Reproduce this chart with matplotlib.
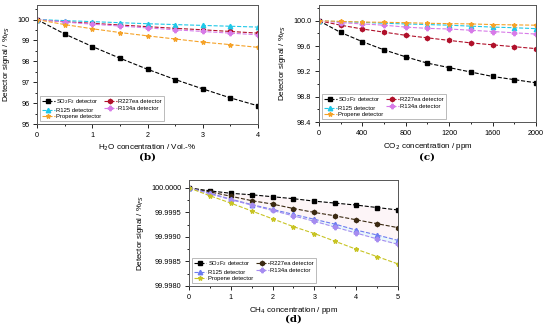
import numpy as np
import matplotlib.pyplot as plt
from matplotlib.ticker import MultipleLocator, AutoMinorLocator, FormatStrFormatter

plt.rcParams['font.family'] = ['Liberation Sans', 'DejaVu Sans']

# (b) H2O
x_h2o = [0, 0.5, 1, 1.5, 2, 2.5, 3, 3.5, 4]
b_so2f2 = [100, 99.31, 98.71, 98.15, 97.62, 97.13, 96.68, 96.25, 95.87]
b_r227ea = [100, 99.9, 99.82, 99.74, 99.66, 99.58, 99.51, 99.43, 99.35]
b_r125 = [100, 99.95, 99.9, 99.85, 99.8, 99.76, 99.72, 99.68, 99.64]
b_r134a = [100, 99.88, 99.78, 99.69, 99.6, 99.51, 99.43, 99.35, 99.27]
b_propene = [100, 99.76, 99.56, 99.38, 99.22, 99.07, 98.92, 98.8, 98.67]

# (c) CO2
x_co2 = [0, 200, 400, 600, 800, 1000, 1200, 1400, 1600, 1800, 2000]
c_so2f2 = [100, 99.815, 99.67, 99.54, 99.43, 99.33, 99.26, 99.19, 99.12, 99.07, 99.02]
c_r227ea = [100, 99.93, 99.87, 99.82, 99.77, 99.73, 99.69, 99.65, 99.62, 99.59, 99.56]
c_r125 = [100, 99.985, 99.975, 99.96, 99.95, 99.94, 99.93, 99.915, 99.9, 99.89, 99.875]
c_r134a = [100, 99.97, 99.95, 99.93, 99.9, 99.88, 99.87, 99.85, 99.83, 99.81, 99.79]
c_propene = [100, 99.99, 99.98, 99.975, 99.97, 99.96, 99.955, 99.95, 99.94, 99.935, 99.93]

# (d) CH4
x_ch4 = [0, 0.5, 1, 1.5, 2, 2.5, 3, 3.5, 4, 4.5, 5]
d_so2f2 = [100, 99.99994, 99.99989, 99.99986, 99.99982, 99.99978, 99.99973, 99.99969, 99.99965, 99.9996, 99.99955]
d_r227ea = [100, 99.99992, 99.99983, 99.99974, 99.99967, 99.99958, 99.9995, 99.99943, 99.99935, 99.99927, 99.99919]
d_r125 = [100, 99.99989, 99.99977, 99.99966, 99.99956, 99.99946, 99.99936, 99.99926, 99.99914, 99.99904, 99.99893]
d_r134a = [100, 99.99988, 99.99976, 99.99965, 99.99954, 99.99943, 99.99932, 99.9992, 99.99908, 99.99896, 99.99885]
d_propene = [100, 99.99984, 99.99969, 99.99953, 99.99937, 99.99921, 99.99907, 99.99891, 99.99875, 99.9986, 99.99845]

names = ['SO$_2$F$_2$ detector', 'R227ea detector', 'R125 detector', 'R134a detector', 'Propene detector']
markers = ['s', 'h', '^', 'P', '*']
cols_bc = ['black', '#b0102a', '#1ec8e8', '#d77ae8', '#f5a228']
cols_d = ['black', '#3b2a12', '#6c7cf0', '#a68cf0', '#c8c424']

fig = plt.figure(figsize=(5.5, 3.29), dpi=100)


def panel(rect, x, ys, cols, xlim, ylim, xmaj, ymaj, yfmt, xlabel, tag):
    ax = fig.add_axes(rect)
    handles = []
    for y, c, m, n in zip(ys, cols, markers, names):
        h, = ax.plot(x, y, '--', color=c, marker=m, ms=3.2, lw=0.8, label=n)
        handles.append(h)
    ax.set_xlim(*xlim)
    ax.set_ylim(*ylim)
    ax.xaxis.set_major_locator(MultipleLocator(xmaj))
    ax.yaxis.set_major_locator(MultipleLocator(ymaj))
    ax.xaxis.set_minor_locator(AutoMinorLocator(2))
    ax.yaxis.set_minor_locator(AutoMinorLocator(2))
    ax.yaxis.set_major_formatter(FormatStrFormatter(yfmt))
    ax.tick_params(which='both', direction='out', labelsize=5.2, width=0.6,
                   top=False, right=False, pad=2.5)
    ax.tick_params(which='major', length=3)
    ax.tick_params(which='minor', length=1.6)
    for s in ax.spines.values():
        s.set_linewidth(0.7)
        s.set_color('#555555')
    ax.set_xlabel(xlabel, fontsize=5.8, labelpad=3)
    ax.set_ylabel('Detector signal / %$_{FS}$', fontsize=5.8, labelpad=4)
    order = [handles[0], handles[2], handles[4], handles[1], handles[3]]
    leg = ax.legend(order, [h.get_label() for h in order], ncol=2, loc='lower left',
                    fontsize=4.2, frameon=True, fancybox=False, handlelength=2.2,
                    columnspacing=0.4, handletextpad=0.3, labelspacing=0.25,
                    borderpad=0.3, borderaxespad=0.5)
    leg.get_frame().set_linewidth(0.5)
    leg.get_frame().set_edgecolor('#888888')
    ax.text(0.5, tag[1], tag[0], transform=ax.transAxes, ha='center',
            fontsize=7.5, fontweight='bold', family='DejaVu Serif')
    return ax


panel([0.0673, 0.623, 0.402, 0.362], x_h2o,
      [b_so2f2, b_r227ea, b_r125, b_r134a, b_propene], cols_bc,
      (0, 4), (95, 100.7), 1, 1, '%d',
      'H$_2$O concentration / Vol.-%', ('(b)', -0.3))

panel([0.58, 0.629, 0.3945, 0.356], x_co2,
      [c_so2f2, c_r227ea, c_r125, c_r134a, c_propene], cols_bc,
      (0, 2000), (98.4, 100.25), 400, 0.4, '%.1f',
      'CO$_2$ concentration / ppm', ('(c)', -0.32))

axd = panel([0.3436, 0.1307, 0.38, 0.322], x_ch4,
            [d_so2f2, d_r227ea, d_r125, d_r134a, d_propene], cols_d,
            (0, 5), (99.998, 100.00016), 1, 0.0005, '%.4f',
            'CH$_4$ concentration / ppm', ('(d)', -0.34))
axd.fill_between(x_ch4, d_so2f2, d_r125, color='#f7c8d8', alpha=0.18, lw=0)
axd.fill_between(x_ch4, d_r125, d_r134a, color='#b8e8f8', alpha=0.3, lw=0)

fig.savefig('out.png', dpi=100)
